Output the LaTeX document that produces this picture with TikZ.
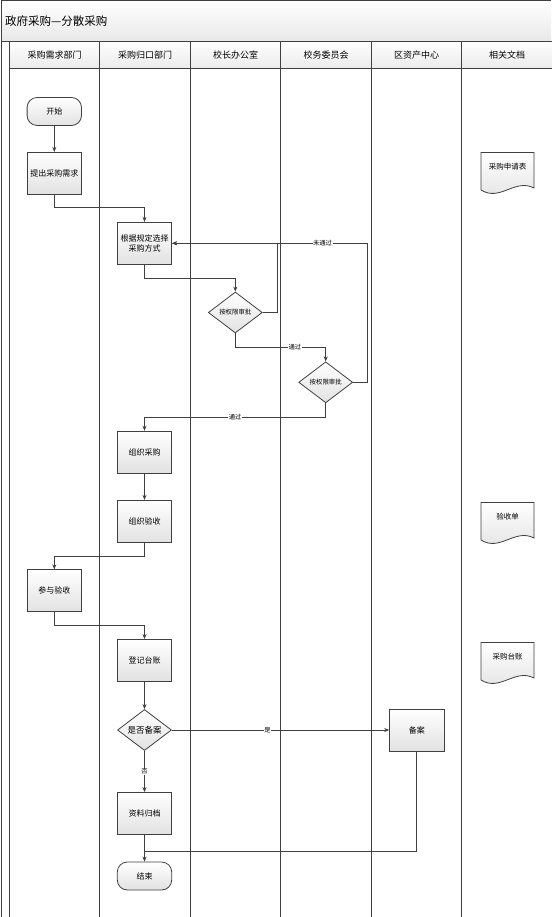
\documentclass[tikz,border=0pt]{standalone}
\usepackage{fontspec}
\setmainfont{Noto Sans CJK SC}
\usetikzlibrary{shapes.geometric, arrows.meta, positioning, calc}
\definecolor{linegray}{HTML}{404040}
\definecolor{fillgray}{HTML}{E2E2E2}

\begin{document}
\begin{tikzpicture}[x=1pt, y=-1pt,
        line/.style={draw=linegray, line width=0.8pt},
        arr/.style={line, -{Stealth[length=5pt, width=4pt]}},
        task/.style={line, top color=white, bottom color=fillgray, minimum width=54.4pt, minimum height=42pt, inner sep=1pt, align=center, font=\fontsize{8}{10}\selectfont},
        term/.style={task, rounded corners=10pt, minimum height=28pt},
        check/.style={line, diamond, aspect=1.3, top color=white, bottom color=fillgray, minimum width=54pt, minimum height=41pt, inner sep=0pt, font=\fontsize{6.4}{8}\selectfont},
        head/.style={line, top color=white, bottom color=fillgray!70, minimum width=90.5pt, minimum height=26.6pt, inner sep=0pt, font=\fontsize{9}{11}\selectfont},
        docu/.style={inner sep=0pt, font=\fontsize{7.5}{9}\selectfont},
        tag/.style={fill=white, inner sep=0.5pt, font=\fontsize{6.3}{7}\selectfont}
    ]
        \useasboundingbox (0,0) rectangle (551,917);

        % Title bar
        \shade[top color=white, bottom color=fillgray!80] (1,0.5) rectangle (551,41.7);
        \draw[line] (551,0.5) -- (1,0.5) -- (1,917);
        \draw[line] (1,41.7) -- (551,41.7);
        \node[anchor=west, font=\fontsize{11.5}{13}\selectfont] (title) at (1.5,21) {政府采购—分散采购};

        % Lane headers
        \foreach \name [count=\i] in {采购需求部门,采购归口部门,校长办公室,校务委员会,区资产中心,相关文档} {
            \node[head] (h\i) at ({9.3+90.5*(\i-0.5)}, 55) {\name};
        }
        % Lane lines
        \foreach \i in {0,...,5} { \draw[line] ({9.3+90.5*\i},41.7) -- ({9.3+90.5*\i},917); }

        % Documents
        \foreach \y/\name/\txt in {166.5/form/采购申请表, 516.5/receipt/验收单, 656.5/account/采购台账} {
            \path[line, top color=white, bottom color=fillgray] (481,\y-14) -- (534,\y-14) -- (534,\y+21.5)
                .. controls (515,\y+11.5) and (500,\y+35.5) .. (481,\y+23.5) -- cycle;
            \node[docu] (\name) at (507.5,\y) {\txt};
        }

        % Steps
        \node[term] (start) at (54.3, 111.5) {开始};
        \node[task] (request) at (54.3, 173.3) {提出采购需求};
        \node[task] (choose) at (144.5, 243.3) {根据规定选择\\采购方式};
        \node[check] (approve1) at (235.3, 312.5) {按权限审批};
        \node[check] (approve2) at (325.7, 382.3) {按权限审批};
        \node[task] (purchase) at (144.5, 452.2) {组织采购};
        \node[task] (inspect) at (144.5, 521.3) {组织验收};
        \node[task] (join) at (54.3, 590.8) {参与验收};
        \node[task] (ledger) at (144.5, 660.5) {登记台账};
        \node[check, font=\fontsize{8.5}{10}\selectfont] (filing) at (144.5, 730) {是否备案};
        \node[task] (record) at (416.8, 730) {备案};
        \node[task] (archive) at (144.5, 813.5) {资料归档};
        \node[term] (finish) at (144.5, 876) {结束};

        % Connections
        \draw[arr] (start) -- (request);
        \draw[arr] (request.south) -- ++(0,13) -| (choose.north);
        \draw[arr] (choose.south) -- ++(0,14) -| (approve1.north);
        \draw[arr] (approve1.east) -- ++(14.4,0) |- (choose.east);
        \draw[arr] (approve1.south) -- ++(0,14) -| node[tag, pos=0.33] {通过} (approve2.north);
        \draw[arr] (approve2.east) -- ++(14.4,0) |- node[tag, pos=0.615] {未通过} (choose.east);
        \draw[arr] (approve2.south) -- ++(0,14) -| node[tag, pos=0.25] {通过} (purchase.north);
        \draw[arr] (purchase) -- (inspect);
        \draw[arr] (inspect.south) -- ++(0,13.5) -| (join.north);
        \draw[arr] (join.south) -- ++(0,13.5) -| (ledger.north);
        \draw[arr] (ledger) -- (filing);
        \draw[arr] (filing) -- node[tag, pos=0.44] {是} (record);
        \draw[arr] (filing) -- node[tag] {否} (archive);
        \draw[arr] (archive) -- (finish);
        \coordinate (merge) at ($(archive.south)!0.6!(finish.north)$);
        \draw[line] (record.south) |- (merge);
    \end{tikzpicture}
\end{document}
